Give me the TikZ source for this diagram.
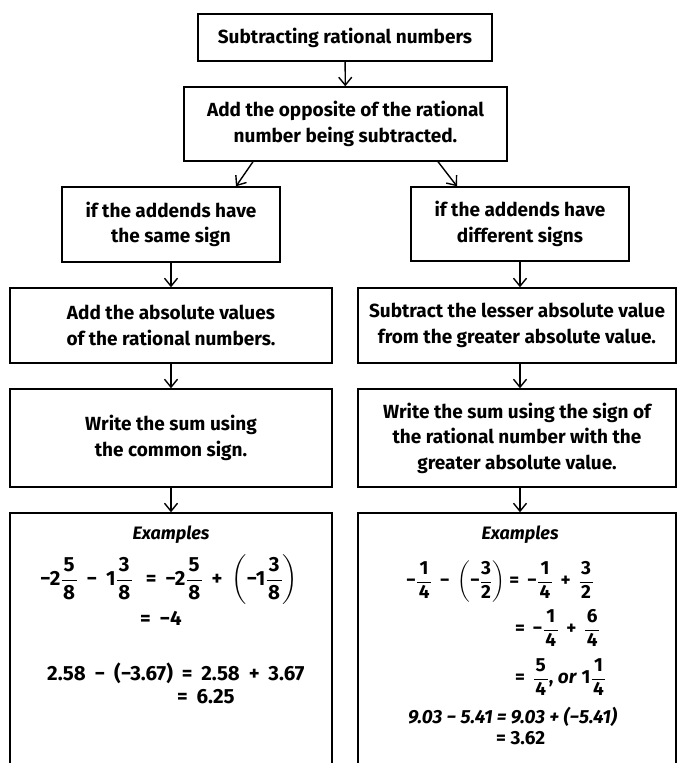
\documentclass[tikz,border=0pt]{standalone}
\usepackage{amsmath}
\usepackage{fontspec}
\setmainfont{Fira Sans}
\usetikzlibrary{positioning,arrows.meta}

\tikzstyle{stepbox}=[rectangle, draw, line width=1.4pt, align=center, inner sep=0pt, font=\fontsize{19}{25.5}\selectfont\bfseries]
\tikzstyle{pointto}=[-{Straight Barb[length=8pt,width=13pt,line width=1.4pt]}, line width=1.4pt]
\tikzstyle{exline}=[inner sep=0pt, anchor=west, font=\fontsize{19}{22}\selectfont\bfseries]
\tikzstyle{exbig}=[exline, font=\fontsize{20.5}{23}\selectfont\bfseries]
\tikzstyle{extitle}=[inner sep=0pt, font=\fontsize{18}{20}\selectfont\bfseries\itshape]
\newcommand{\fr}[2]{\ensuremath{\dfrac{\text{\hspace{1.5pt}#1\hspace{1.5pt}}}{\text{\hspace{1.5pt}#2\hspace{1.5pt}}}}}
\newcommand{\gp}{\hspace{4pt}}

\begin{document}
\begin{tikzpicture}[x=1pt, y=-1pt]
\useasboundingbox (0,0) rectangle (677,763);
\clip (0,0) rectangle (677,763);
\node[stepbox, minimum width=294pt, minimum height=47pt] (title) at (345,37.5) {Subtracting rational numbers};
\node[stepbox, minimum width=323pt, minimum height=74pt] (opp) at (345.5,124) {Add the opposite of the rational\\number being subtracted.};
\node[stepbox, minimum width=218pt, minimum height=75pt] (same) at (171,224.5) {if the addends have\\the same sign};
\node[stepbox, minimum width=218pt, minimum height=74pt] (diff) at (520,224) {if the addends have\\different signs};
\node[stepbox, minimum width=322pt, minimum height=75pt] (addabs) at (171,325.5) {Add the absolute values\\of the rational numbers.};
\node[stepbox, minimum width=318pt, minimum height=75pt] (subabs) at (517,325.5) {Subtract the lesser absolute value\\from the greater absolute value.};
\node[stepbox, minimum width=322pt, minimum height=98pt] (common) at (171,438) {Write the sum using\\the common sign.};
\node[stepbox, minimum width=318pt, minimum height=98pt] (greater) at (517,438) {Write the sum using the sign of\\the rational number with the\\greater absolute value.};
\node[stepbox, minimum width=322pt, minimum height=287pt] (exL) at (171,656.5) {};
\node[stepbox, minimum width=318pt, minimum height=287pt] (exR) at (517,656.5) {};
% examples, left
\node[extitle] (exLtitle) at (171,535) {Examples};
\node[exbig] (exL1) at (40,580) {−2\fr58\gp{} − \gp1\fr38\gp{} \gp=\gp{} −2\fr58\gp{} + \gp$\left(\text{−1}\dfrac{\text{\hspace{1.5pt}3\hspace{1.5pt}}}{\text{\hspace{1.5pt}8\hspace{1.5pt}}}\right)$};
\node[exbig] (exL2) at (140,618) {=\gp{} −4};
\node[exbig] (exL3) at (47,673) {2.58\gp{} − \gp(−3.67)\gp{} = \gp2.58\gp{} + \gp3.67};
\node[exbig] (exL4) at (177,697) {=\gp{} 6.25};
% examples, right
\node[extitle] (exRtitle) at (520,535) {Examples};
\node[exline] (exR1) at (406,582) {−\fr14 \,−\, $\left(\text{−}\dfrac{\text{3}}{\text{2}}\right)$ = \,−\fr14 \,+\, \fr32};
\node[exline] (exR2) at (515,628) {= \,−\fr14 \,+\, \fr64};
\node[exline] (exR3) at (515,677) {= \,\fr54, \textit{or} 1\fr14};
\node[exline, font=\fontsize{19}{22}\selectfont\bfseries\itshape] (exR4) at (408,717) {9.03 − 5.41 = 9.03 + (−5.41)};
\node[exline] (exR5) at (496,738) {= 3.62};
% arrows
\draw[pointto] (title) -- (opp);
\draw[pointto] ([xshift=-92.5pt]opp.south) -- ([xshift=65pt]same.north);
\draw[pointto] ([xshift=92.5pt]opp.south) -- ([xshift=-63pt]diff.north);
\draw[pointto] (same) -- (addabs);
\draw[pointto] (diff.south) -- (diff.south |- subabs.north);
\draw[pointto] (addabs) -- (common);
\draw[pointto] (subabs.south -| diff.south) -- (greater.north -| diff.south);
\draw[pointto] (common) -- (exL);
\draw[pointto] (greater.south -| diff.south) -- (exR.north -| diff.south);
\end{tikzpicture}
\end{document}
